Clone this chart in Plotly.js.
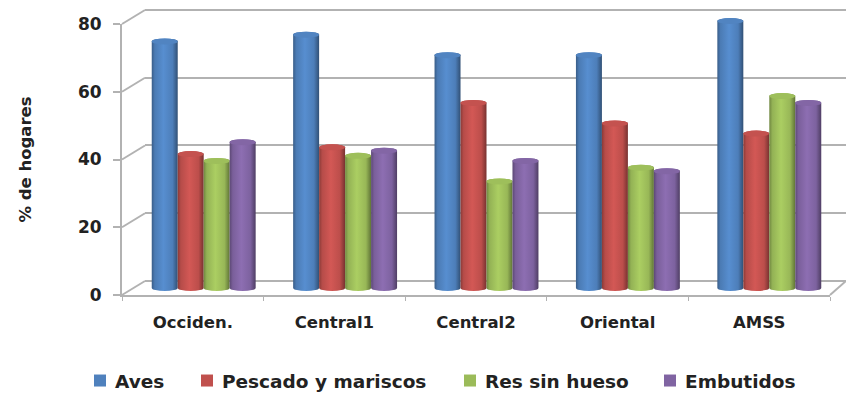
<!DOCTYPE html>
<html>
<head>
<meta charset="utf-8">
<script src="https://cdn.plot.ly/plotly-3.0.1.min.js"></script>
<style>html,body{margin:0;padding:0;background:#fff}</style>
</head>
<body>
<div id="chart" style="width:846px;height:396px"></div>
<script>
const regions = ["Occiden.", "Central1", "Central2", "Oriental", "AMSS"];
const aves = [74, 76, 70, 70, 80];
const pescado = [41, 43, 56, 50, 47];
const res = [39, 40.5, 33, 37, 58];
const embutidos = [44.5, 42, 39, 36, 56];
const yTicks = [0, 20, 40, 60, 80];

const W = 846, H = 396;
const FONT = '"DejaVu Sans", sans-serif';
const INK = "#222222", RULE = "#b2b2b2";
const px = v => v / W, py = v => 1 - v / H;

// Faux-3D frame: each layer has its own axis pair, drawn back to front.
const wall = {left: 145, right: 846, zero: 281, top: 10};
const front = {left: 122, right: 830, zero: 295, top: 24};
const bars = {left: 133, right: 840, zero: 291, top: 18};
const legendStops = [80, 187, 450, 650];
const legendDrop = 19;

const series = [
  {name: "Aves", y: aves, color: "#4f81bd"},
  {name: "Pescado y mariscos", y: pescado, color: "#c0504d"},
  {name: "Res sin hueso", y: res, color: "#9bbb59"},
  {name: "Embutidos", y: embutidos, color: "#8064a2"}
];

const traces = [
  {type: "scatter", x: regions, y: regions.map(() => null), xaxis: "x", yaxis: "y", showlegend: false, hoverinfo: "skip"},
  {type: "scatter", x: regions, y: regions.map(() => null), xaxis: "x2", yaxis: "y2", showlegend: false, hoverinfo: "skip"}
].concat(series.map(s => ({
  type: "bar", name: s.name, x: regions, y: s.y, xaxis: "x3", yaxis: "y3",
  marker: {color: s.color, line: {width: 0}}
})));

// The wall axis runs a little past 0 and 80 so both end gridlines are kept.
const wallPad = 0.6, wallUnit = (wall.zero - wall.top) / 80;

const hiddenX = {type: "category", categoryarray: regions, range: [-0.5, 4.5], visible: false, fixedrange: true};
const layout = {
  width: W, height: H,
  margin: {l: 0, r: 0, t: 0, b: 0},
  paper_bgcolor: "#fff", plot_bgcolor: "rgba(0,0,0,0)",
  font: {family: FONT, color: INK, size: 14},
  barmode: "group", bargap: 0.265, bargroupgap: 0,
  xaxis: Object.assign({}, hiddenX, {domain: [px(wall.left), px(wall.right)], anchor: "y"}),
  yaxis: {domain: [py(wall.zero + wallPad * wallUnit), py(wall.top - wallPad * wallUnit)],
    range: [-wallPad, 80 + wallPad], tickvals: yTicks, anchor: "x",
    showgrid: true, gridcolor: RULE, gridwidth: 2, zeroline: false, showticklabels: false, ticks: "", showline: false},
  xaxis2: {type: "category", categoryarray: regions, range: [-0.5, 4.5], tickson: "boundaries",
    domain: [px(front.left), px(front.right)], anchor: "y2", showgrid: false, zeroline: false,
    showline: true, linecolor: RULE, linewidth: 2, ticks: "outside", ticklen: 4, tickcolor: RULE, tickwidth: 1,
    ticklabelstandoff: 11,
    tickfont: {family: FONT, size: 16.5, weight: 700, color: INK}},
  yaxis2: {domain: [py(front.zero), py(front.top)], range: [0, 80], tickvals: yTicks, anchor: "x2",
    showgrid: false, zeroline: false, showline: true, linecolor: RULE, linewidth: 2,
    ticks: "outside", ticklen: 7, tickcolor: RULE, tickwidth: 2, ticklabelstandoff: 8,
    tickfont: {family: FONT, size: 17, weight: 700, color: INK},
    title: {text: "% de hogares", standoff: 42, font: {family: FONT, size: 16.5, weight: 700, color: INK}}},
  xaxis3: Object.assign({}, hiddenX, {domain: [px(bars.left), px(bars.right)], anchor: "y3"}),
  yaxis3: {domain: [py(bars.zero), py(bars.top)], range: [0, 80], visible: false, anchor: "x3"},
  legend: {orientation: "h", x: 0, xanchor: "left", y: py(362), yanchor: "middle",
    font: {family: FONT, size: 18.5, weight: 700, color: INK}, traceorder: "normal"},
  // Diagonal edges joining the front axes to the back wall.
  shapes: yTicks.map((t, i) => ({
    type: "line", xref: "paper", yref: "paper", layer: "below",
    x0: px(front.left), x1: px(wall.left),
    y0: py(front.zero + (front.top - front.zero) * i / 4),
    y1: py(wall.zero + (wall.top - wall.zero) * i / 4),
    line: {color: RULE, width: 2}
  })).concat([{
    type: "line", xref: "paper", yref: "paper", layer: "below",
    x0: px(front.right), x1: px(wall.right), y0: py(front.zero), y1: py(wall.zero),
    line: {color: RULE, width: 2}
  }])
};

Plotly.newPlot("chart", traces, layout, {staticPlot: true, displayModeBar: false}).then(gd => {
  const NS = "http://www.w3.org/2000/svg";
  const svg = gd.querySelector(".main-svg");
  const defs = svg.querySelector("defs") || svg.appendChild(document.createElementNS(NS, "defs"));

  // Horizontal shading that turns each flat bar into a cylinder.
  const shade = (hex, k) => {
    const n = parseInt(hex.slice(1), 16);
    const ch = s => Math.min(255, Math.round(((n >> s) & 255) * k));
    return `rgb(${ch(16)},${ch(8)},${ch(0)})`;
  };
  series.forEach((s, i) => {
    const g = document.createElementNS(NS, "linearGradient");
    g.id = "cyl" + i;
    [[0, 0.72], [0.12, 0.95], [0.45, 1.1], [0.8, 0.98], [1, 0.62]].forEach(([o, k]) => {
      const st = document.createElementNS(NS, "stop");
      st.setAttribute("offset", o);
      st.setAttribute("stop-color", shade(s.color, k));
      g.appendChild(st);
    });
    defs.appendChild(g);
  });

  gd.querySelectorAll(".barlayer .trace.bars").forEach((trace, i) => {
    trace.querySelectorAll(".point path").forEach(path => {
      const b = path.getBBox();
      const rx = b.width / 2, ry = 3;
      const top = b.y + ry, bottom = b.y + b.height - ry;
      path.setAttribute("d",
        `M${b.x},${top}L${b.x},${bottom}A${rx},${ry} 0 0 0 ${b.x + b.width},${bottom}` +
        `L${b.x + b.width},${top}A${rx},${ry} 0 0 0 ${b.x},${top}Z`);
      path.style.fill = `url(#cyl${i})`;
      const cap = document.createElementNS(NS, "ellipse");
      cap.setAttribute("cx", b.x + rx);
      cap.setAttribute("cy", top);
      cap.setAttribute("rx", rx);
      cap.setAttribute("ry", ry);
      cap.style.fill = shade(series[i].color, 1.02);
      path.parentNode.appendChild(cap);
    });
  });

  // Spread the legend entries along the bottom row and pull each label to its swatch.
  const box = gd.querySelector(".legend .scrollbox");
  if (box) box.removeAttribute("clip-path");
  gd.querySelectorAll(".legend .traces").forEach((item, i) => {
    const m = /translate\(([^,]+),\s*([^)]+)\)/.exec(item.getAttribute("transform"));
    item.setAttribute("transform", `translate(${legendStops[i]},${(m ? parseFloat(m[2]) : 0) + legendDrop})`);
    const label = item.querySelector(".legendtext");
    if (label) label.setAttribute("x", parseFloat(label.getAttribute("x")) - 5);
  });
});
</script>
</body>
</html>
